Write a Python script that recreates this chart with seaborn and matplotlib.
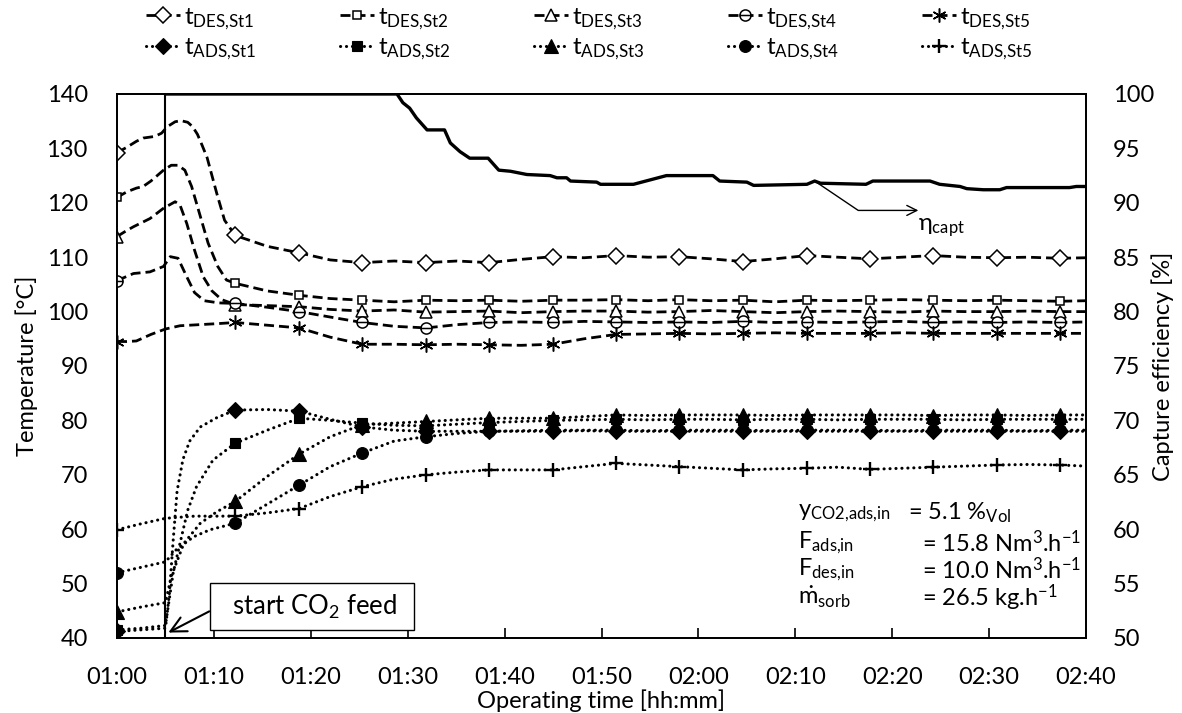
import matplotlib
matplotlib.use("Agg")
import matplotlib.pyplot as plt
import seaborn as sns
import numpy as np
import pandas as pd
from matplotlib.path import Path

sns.set_theme(style="white")
plt.rcParams["font.family"] = ["Lato", "DejaVu Sans"]
plt.rcParams["mathtext.fontset"] = "custom"
plt.rcParams["mathtext.rm"] = "Lato"
plt.rcParams["mathtext.it"] = "Lato:italic"
plt.rcParams["mathtext.bf"] = "Lato:bold"
plt.rcParams["mathtext.default"] = "regular"
plt.rcParams["mathtext.fallback"] = "stixsans"
plt.rcParams["axes.edgecolor"] = "black"
plt.rcParams["text.color"] = "black"
plt.rcParams["xtick.color"] = "black"
plt.rcParams["ytick.color"] = "black"

# ---- time axis (minutes after 01:00) ----
TIME_TICKS = [0, 10, 20, 30, 40, 50, 60, 70, 80, 90, 100]
TIME_LABELS = ["01:00", "01:10", "01:20", "01:30", "01:40", "01:50",
               "02:00", "02:10", "02:20", "02:30", "02:40"]
TEMP_TICKS = [40, 50, 60, 70, 80, 90, 100, 110, 120, 130, 140]
EFF_TICKS = [50, 55, 60, 65, 70, 75, 80, 85, 90, 95, 100]
FEED_START = 5.0

# times at which the measurement symbols are shown
MARK_T = [0.0, 12.2, 18.8, 25.3, 31.9, 38.4, 45.0, 51.5, 58.0, 64.6,
          71.2, 77.7, 84.2, 90.8, 97.3]

# common time base after the start-up transient
STEADY_T = [15.5, 18.8, 22.0, 25.3, 28.6, 31.9, 35.1, 38.4, 41.7, 45.0,
            48.2, 51.5, 54.8, 58.0, 61.3, 64.6, 67.9, 71.2, 74.4, 77.7,
            81.0, 84.2, 87.5, 90.8, 94.0, 97.3, 100.0]

# ---- desorber temperatures, stages 1-5 ----
des1_t0 = [0, 1.0, 2.0, 2.7, 3.9, 4.6, 5.2, 6.0, 6.6, 7.3, 7.8, 8.3, 8.8,
           9.3, 9.8, 10.3, 11.1, 12.2]
des1_T0 = [129.2, 130.2, 131.3, 131.9, 132.2, 132.8, 134.0, 134.9, 135.1,
           134.8, 134.0, 132.6, 130.5, 128.3, 125.0, 121.7, 116.8, 114.0]
des1_T = [112.0, 110.8, 109.5, 109.0, 109.3, 109.0, 109.3, 109.0, 109.6,
          110.1, 109.9, 110.3, 110.0, 110.1, 109.7, 109.2, 109.7, 110.3,
          110.0, 109.7, 110.0, 110.3, 110.0, 109.9, 110.0, 109.8, 109.9]

des2_t0 = [0, 1.0, 2.0, 2.7, 3.5, 4.8, 5.6, 6.3, 7.0, 7.7, 8.6, 9.4, 10.4,
           11.3, 12.2]
des2_T0 = [121.0, 122.0, 122.7, 123.0, 124.0, 126.0, 126.9, 126.9, 126.0,
           123.0, 117.5, 112.6, 108.3, 105.8, 105.2]
des2_T = [103.8, 103.0, 102.4, 102.1, 101.8, 102.1, 102.0, 102.1, 101.9,
          102.1, 102.1, 102.2, 102.0, 102.2, 102.0, 102.1, 101.8, 102.1,
          102.0, 102.1, 102.2, 102.1, 102.0, 102.1, 102.0, 101.9, 102.0]

des3_t0 = [0, 1.0, 1.7, 3.4, 4.8, 6.0, 6.5, 7.2, 8.0, 8.9, 9.8, 10.8, 12.2]
des3_T0 = [113.8, 114.9, 115.6, 117.1, 119.0, 120.2, 119.6, 116.2, 111.3,
           106.4, 103.8, 102.2, 101.3]
des3_T = [101.1, 100.9, 100.4, 100.1, 100.3, 99.9, 100.0, 100.1, 99.8,
          100.0, 100.1, 100.1, 99.9, 100.0, 100.2, 100.0, 99.8, 100.0,
          100.1, 100.0, 99.9, 100.1, 100.0, 100.0, 100.1, 100.0, 100.0]

des4_t0 = [0, 1.7, 3.4, 4.8, 5.5, 6.3, 7.2, 8.0, 9.0, 10.5, 12.2]
des4_T0 = [105.7, 107.0, 107.3, 108.3, 110.1, 109.8, 106.4, 103.5, 102.0,
           101.6, 101.5]
des4_T = [100.8, 100.0, 99.0, 98.0, 97.3, 97.0, 97.6, 98.0, 98.1, 98.0,
          98.2, 98.1, 98.0, 98.1, 98.0, 98.2, 98.0, 98.1, 98.0, 98.1,
          98.2, 98.0, 98.1, 98.0, 98.1, 98.0, 98.1]

des5_t0 = [0, 1.0, 2.0, 3.5, 5.0, 6.5, 8.5, 10.5, 12.2]
des5_T0 = [94.5, 94.5, 94.6, 95.8, 96.8, 97.4, 97.6, 97.8, 98.0]
des5_T = [97.5, 97.0, 95.3, 94.0, 94.0, 93.9, 94.0, 93.9, 93.8, 94.0,
          95.0, 95.8, 95.9, 96.0, 95.9, 96.0, 96.1, 96.0, 96.0, 96.0,
          96.1, 96.0, 96.0, 96.0, 96.0, 96.0, 96.0]

# ---- adsorber temperatures, stages 1-5 ----
ads1_t0 = [0, 2.5, 5.0, 5.4, 5.8, 6.2, 6.8, 7.5, 8.6, 10.3, 12.2]
ads1_T0 = [41.2, 41.5, 41.8, 48.0, 58.0, 67.0, 72.8, 76.2, 78.8, 80.5, 81.9]
ads1_T = [82.0, 81.7, 80.2, 78.8, 78.2, 78.0, 78.0, 78.0, 78.0, 78.0,
          78.1, 78.0, 78.0, 78.0, 78.0, 78.0, 78.0, 78.0, 78.0, 78.0,
          78.0, 78.0, 78.0, 78.0, 78.0, 78.0, 78.0]

ads2_t0 = [0, 2.5, 5.0, 5.3, 5.8, 6.5, 7.3, 8.2, 9.9, 12.2]
ads2_T0 = [41.5, 41.8, 42.3, 46.0, 52.0, 57.4, 63.5, 67.8, 72.7, 75.8]
ads2_T = [78.2, 80.4, 80.0, 79.5, 79.1, 79.0, 79.3, 79.6, 79.8, 80.0,
          80.1, 80.2, 80.1, 80.2, 80.2, 80.1, 80.2, 80.2, 80.1, 80.2,
          80.2, 80.2, 80.1, 80.2, 80.2, 80.2, 80.2]

ads3_t0 = [0, 2.5, 5.0, 5.6, 6.9, 8.6, 10.3, 12.2]
ads3_T0 = [44.8, 45.7, 46.5, 51.3, 57.4, 61.1, 63.2, 65.1]
ads3_T = [69.7, 73.8, 77.0, 79.2, 79.5, 79.8, 80.1, 80.4, 80.4, 80.4,
          80.7, 81.0, 80.9, 81.0, 81.0, 81.0, 80.9, 81.0, 81.0, 81.0,
          81.0, 80.9, 81.0, 81.0, 80.9, 81.0, 81.0]

ads4_t0 = [0, 2.5, 5.0, 6.1, 7.9, 9.6, 12.2]
ads4_T0 = [52.0, 53.0, 54.0, 56.2, 58.6, 59.9, 61.1]
ads4_T = [64.6, 68.1, 71.5, 74.0, 76.2, 77.0, 77.6, 78.0, 78.1, 78.2,
          78.2, 78.2, 78.1, 78.2, 78.2, 78.2, 78.1, 78.2, 78.2, 78.2,
          78.1, 78.2, 78.2, 78.2, 78.1, 78.2, 78.2]

ads5_t0 = [0, 2.5, 5.0, 8.0, 12.2]
ads5_T0 = [59.9, 61.0, 62.0, 62.4, 62.4]
ads5_T = [63.0, 63.8, 66.0, 67.8, 69.2, 70.0, 70.5, 70.9, 70.9, 70.9,
          71.5, 72.1, 71.8, 71.5, 71.2, 70.9, 71.1, 71.2, 71.4, 71.0,
          71.2, 71.4, 71.6, 71.8, 71.9, 71.8, 71.6]

# ---- capture efficiency ----
eta_t = [5.0, 28.9, 29.5, 30.2, 30.9, 32.0, 33.8, 34.4, 35.4, 36.4, 38.3,
         39.4, 40.6, 42.3, 44.7, 45.4, 46.4, 46.8, 49.5, 49.9, 53.3, 55.0,
         56.7, 61.5, 62.2, 65.0, 65.7, 71.2, 72.0, 72.6, 77.3, 78.0, 83.9,
         84.9, 87.0, 87.7, 89.4, 91.1, 91.8, 98.3, 99.0, 100.0]
eta = [100.0, 100.0, 99.2, 98.7, 97.8, 96.7, 96.7, 95.5, 94.7, 94.1, 94.1,
       93.0, 92.9, 92.6, 92.5, 92.3, 92.3, 92.0, 91.9, 91.7, 91.7, 92.1,
       92.5, 92.5, 92.0, 91.9, 91.6, 91.7, 92.0, 91.8, 91.7, 92.0, 92.0,
       91.7, 91.5, 91.3, 91.2, 91.2, 91.4, 91.4, 91.5, 91.5]


def series_frame(t0, T0, T):
    t = list(t0) + STEADY_T
    return pd.DataFrame({"t": t, "T": list(T0) + list(T)})


def mark_index(df):
    return [i for i, v in enumerate(df["t"]) if np.any(np.isclose(v, MARK_T))]


# open circle crossed by a horizontal bar
circle_bar = Path.make_compound_path(
    Path.unit_circle(),
    Path([[-1.0, 0.0], [1.0, 0.0]], [Path.MOVETO, Path.LINETO]))

DES_DASH = (0, (3.6, 1.8))
ADS_DOT = (0, (0.05, 1.9))

des_specs = [
    ("St1", des1_t0, des1_T0, des1_T, "D", 8.0),
    ("St2", des2_t0, des2_T0, des2_T, "s", 6.0),
    ("St3", des3_t0, des3_T0, des3_T, "^", 9.0),
    ("St4", des4_t0, des4_T0, des4_T, circle_bar, 8.0),
    ("St5", des5_t0, des5_T0, des5_T, (6, 2, 0), 10.0),
]
ads_specs = [
    ("St1", ads1_t0, ads1_T0, ads1_T, "D", 8.5),
    ("St2", ads2_t0, ads2_T0, ads2_T, "s", 7.0),
    ("St3", ads3_t0, ads3_T0, ads3_T, "^", 10.0),
    ("St4", ads4_t0, ads4_T0, ads4_T, "o", 8.5),
    ("St5", ads5_t0, ads5_T0, ads5_T, "+", 10.5),
]

W, H = 1182, 713
fig = plt.figure(figsize=(W / 100, H / 100), dpi=100)
ax = fig.add_axes([117 / W, (H - 638) / H, 969 / W, 544 / H])

des_handles, ads_handles = [], []
for name, t0, T0, T, mk, ms in des_specs:
    df = series_frame(t0, T0, T)
    sns.lineplot(data=df, x="t", y="T", ax=ax, color="black", lw=2.0,
                 linestyle=DES_DASH, marker=mk, markersize=ms,
                 markerfacecolor="white", markeredgecolor="black",
                 markeredgewidth=1.1, markevery=mark_index(df),
                 estimator=None, sort=False, zorder=3)
    des_handles.append((ax.lines[-1], r"t$_{DES{,}%s}$" % name))

for name, t0, T0, T, mk, ms in ads_specs:
    df = series_frame(t0, T0, T)
    sns.lineplot(data=df, x="t", y="T", ax=ax, color="black", lw=2.2,
                 linestyle=ADS_DOT, dash_capstyle="round", marker=mk,
                 markersize=ms, markerfacecolor="black",
                 markeredgecolor="black",
                 markeredgewidth=1.7 if mk == "+" else 0.8,
                 markevery=mark_index(df), estimator=None, sort=False,
                 zorder=3)
    ads_handles.append((ax.lines[-1], r"t$_{ADS{,}%s}$" % name))

ax.axvline(FEED_START, color="black", lw=1.5, zorder=2)

ax.set_xlim(0, 100)
ax.set_ylim(40, 140)
ax.set_xticks(TIME_TICKS, labels=TIME_LABELS)
ax.set_yticks(TEMP_TICKS)
ax.set_xlabel("")
ax.set_ylabel("")
ax.tick_params(axis="x", direction="in", length=7, width=1.2, pad=21,
               labelsize=17, bottom=True)
ax.tick_params(axis="y", length=0, pad=21, labelsize=17)
for s in ax.spines.values():
    s.set_linewidth(1.3)
    s.set_color("black")

ax.annotate("  start CO$_2$ feed  ", xy=(FEED_START + 0.3, 41.0),
            xytext=(10.5, 45.8), textcoords="data", ha="left", va="center",
            fontsize=18.5,
            bbox=dict(boxstyle="square,pad=0.35", fc="white", ec="black",
                      lw=1.0),
            arrowprops=dict(arrowstyle="->,head_length=0.6,head_width=0.3",
                            color="black", lw=1.5, relpos=(0, 0.5),
                            shrinkA=0, shrinkB=0),
            zorder=6)

# parameter block
rows = [
    (r"$y_{CO2{,}ads{,}in}$", r"= 5.1 %$_{Vol}$", 0.816, 0.230),
    (r"$F_{ads{,}in}$", r"= 15.8 Nm$^{3}$.h$^{-1}$", 0.831, 0.175),
    (r"$F_{des{,}in}$", r"= 10.0 Nm$^{3}$.h$^{-1}$", 0.831, 0.125),
    (r"$\dot{m}_{sorb}$", r"= 26.5 kg.h$^{-1}$", 0.831, 0.074),
]
for lab, val, xv, yv in rows:
    ax.text(0.703, yv, lab, transform=ax.transAxes, fontsize=17,
            ha="left", va="center")
    ax.text(xv, yv, val, transform=ax.transAxes, fontsize=17,
            ha="left", va="center")

# capture efficiency on the secondary axis
ax2 = ax.twinx()
sns.lineplot(x=eta_t, y=eta, ax=ax2, color="black", lw=2.4,
             estimator=None, sort=False)
ax2.set_ylim(50, 100)
ax2.set_yticks(EFF_TICKS)
ax2.set_ylabel("")
ax2.tick_params(axis="y", length=0, pad=19.5, labelsize=17)
for s in ax2.spines.values():
    s.set_linewidth(1.3)
    s.set_color("black")
ax2.annotate("", xy=(82.7, 89.3), xytext=(72.0, 92.0),
             arrowprops=dict(arrowstyle="->,head_length=0.6,head_width=0.3",
                             color="black", lw=1.0,
                             connectionstyle="angle,angleA=-34,angleB=0,rad=0",
                             shrinkA=0, shrinkB=0))
ax2.text(82.7, 87.7, r"$\eta_{capt}$", fontsize=17, ha="left", va="center")

# axis titles
mid_y = 1 - 366 / H
fig.text(601 / W, 1 - 701 / H, "Operating time [hh:mm]", fontsize=17,
         ha="center", va="center")
fig.text(27 / W, mid_y, "Temperature [°C]", fontsize=17, rotation=90,
         ha="center", va="center")
fig.text(1163 / W, mid_y, "Capture efficiency [%]", fontsize=17,
         rotation=90, ha="center", va="center")

# legend: one column per stage, desorber on top, adsorber below
col_x = [146, 340, 534, 728, 922]
for x0, (hd, ld), (ha_, la) in zip(col_x, des_handles, ads_handles):
    fig.legend([hd, ha_], [ld, la], loc="upper left",
               bbox_to_anchor=(x0 / W, 1 - 6 / H), frameon=False,
               fontsize=17.5, handlelength=1.4, handletextpad=0.15,
               labelspacing=0.22, borderpad=0, borderaxespad=0,
               numpoints=1)

fig.savefig("out.png", dpi=100)
